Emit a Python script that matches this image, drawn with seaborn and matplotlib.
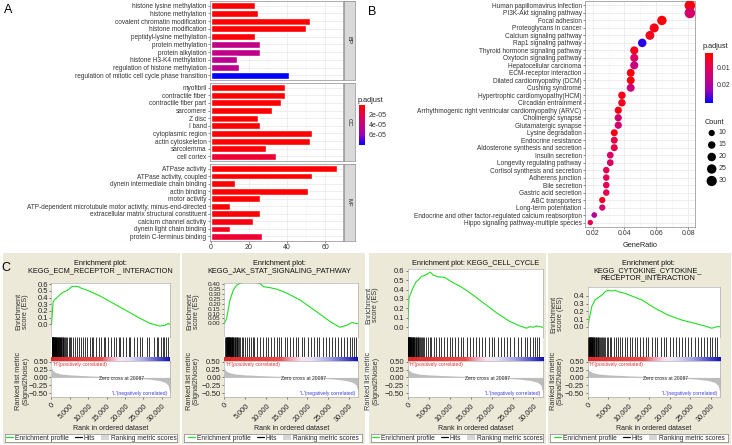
import numpy as np
import pandas as pd
import seaborn as sns
import matplotlib
matplotlib.use('Agg')
from matplotlib import pyplot as plt
from matplotlib.colors import LinearSegmentedColormap, Normalize
from matplotlib.cm import ScalarMappable
from matplotlib.lines import Line2D
from matplotlib.patches import Patch

# ---- panel A: GO enrichment (bar) ----
bp_terms = ['histone lysine methylation', 'histone methylation', 'covalent chromatin modification',
            'histone modification', 'peptidyl-lysine methylation', 'protein methylation',
            'protein alkylation', 'histone H3-K4 methylation', 'regulation of histone methylation',
            'regulation of mitotic cell cycle phase transition']
bp_counts = [23, 25, 52, 50, 23, 26, 26, 14, 15, 41]
bp_padj = [1e-6, 1e-6, 1e-6, 1e-6, 2e-6, 4.5e-5, 4.5e-5, 4.7e-5, 4.7e-5, 8.2e-5]

cc_terms = ['myofibril', 'contractile fiber', 'contractile fiber part', 'sarcomere', 'Z disc', 'I band',
            'cytoplasmic region', 'actin cytoskeleton', 'sarcolemma', 'cell cortex']
cc_counts = [39, 39, 37, 32, 25, 26, 53, 52, 29, 34]
cc_padj = [1e-6, 1e-6, 1e-6, 1e-6, 1e-6, 1e-6, 1e-6, 1e-6, 3e-6, 1.5e-5]

mf_terms = ['ATPase activity', 'ATPase activity, coupled', 'dynein intermediate chain binding',
            'actin binding', 'motor activity',
            'ATP-dependent microtubule motor activity, minus-end-directed',
            'extracellular matrix structural constituent', 'calcium channel activity',
            'dynein light chain binding', 'protein C-terminus binding']
mf_counts = [66, 53, 13, 51, 26, 10, 26, 22, 10, 27]
mf_padj = [1e-6, 1e-6, 1e-6, 1e-6, 1e-6, 2e-6, 2e-6, 6e-6, 9e-6, 1.5e-5]

# ---- panel B: KEGG enrichment (dots) ----
kegg_terms = ['Human papillomavirus infection', 'PI3K-Akt signaling pathway', 'Focal adhesion',
              'Proteoglycans in cancer', 'Calcium signaling pathway', 'Rap1 signaling pathway',
              'Thyroid hormone signaling pathway', 'Oxytocin signaling pathway',
              'Hepatocellular carcinoma', 'ECM-receptor interaction',
              'Dilated cardiomyopathy (DCM)', 'Cushing syndrome',
              'Hypertrophic cardiomyopathy(HCM)', 'Circadian entrainment',
              'Arrhythmogenic right ventricular cardiomyopathy (ARVC)', 'Cholinergic synapse',
              'Glutamatergic synapse', 'Lysine degradation', 'Endocrine resistance',
              'Aldosterone synthesis and secretion', 'Insulin secretion',
              'Longevity regulating pathway', 'Cortisol synthesis and secretion',
              'Adherens junction', 'Bile secretion', 'Gastric acid secretion', 'ABC transporters',
              'Long-term potentiation',
              'Endocrine and other factor-regulated calcium reabsorption',
              'Hippo signaling pathway-multiple species']
kegg_ratio = [0.0809, 0.0809, 0.0634, 0.0586, 0.0559, 0.0511, 0.0461, 0.0461, 0.0461, 0.0439,
              0.0439, 0.0439, 0.0384, 0.0384, 0.0361, 0.0361, 0.0361, 0.0336, 0.0336, 0.0336,
              0.0311, 0.0311, 0.0286, 0.0286, 0.0286, 0.0286, 0.0261, 0.0261, 0.0211, 0.0186]
kegg_count = [32, 32, 25, 23, 22, 20, 18, 18, 18, 17, 17, 17, 15, 15, 14, 14, 14, 13, 13, 13,
              12, 12, 11, 11, 11, 11, 10, 10, 8, 7]
kegg_padj = [0.002, 0.013, 0.002, 0.003, 0.004, 0.029, 0.004, 0.012, 0.016, 0.002, 0.002, 0.015,
             0.003, 0.004, 0.003, 0.013, 0.013, 0.003, 0.008, 0.008, 0.012, 0.012, 0.009, 0.009,
             0.009, 0.009, 0.004, 0.013, 0.019, 0.009]
count_legend = [10, 15, 20, 25, 30]

# ---- panel C: GSEA ----
n_genes = 32270
zero_cross = 20087
metric_rank = [0, 300, 1000, 2500, 5000, 10000, 15000, 20087, 24000, 27000, 29500, 31000, 31800, 32270]
metric_val = [0.30, 0.22, 0.16, 0.11, 0.08, 0.05, 0.025, 0.0, -0.03, -0.06, -0.10, -0.16, -0.25, -0.5]

c1_rank = [0, 450, 900, 1800, 2700, 3600, 4500, 5000, 5450, 6400, 7300, 8200, 10000, 13200, 16800,
           20400, 24100, 26800, 29500, 30900, 31800, 32270]
c1_es = [0.0, 0.34, 0.37, 0.415, 0.465, 0.49, 0.515, 0.54, 0.565, 0.57, 0.565, 0.54, 0.505, 0.425,
         0.315, 0.205, 0.09, 0.015, -0.025, -0.015, 0.015, 0.0]
c1_hits = [20, 70, 110, 160, 230, 280, 340, 400, 470, 530, 610, 680, 760, 830, 910, 990, 1080, 1160,
           1250, 1340, 1450, 1560, 1680, 1790, 1920, 2050, 2200, 2350, 2500, 2680, 2850, 3050, 3250,
           3480, 3700, 3950, 4300, 4700, 5100, 5350, 5800, 6300, 7000, 7400, 8100, 8500, 9200, 9600,
           10400, 10900, 11300, 12200, 12900, 13600, 14300, 14600, 15400, 16200, 16900, 17600,
           18300, 18700, 19600, 20300, 21100, 21500, 22400, 23300, 24200, 24600, 25900, 26500,
           27800, 28600, 29100, 29800, 30400, 30700, 31200, 31700]

c2_rank = [0, 560, 1370, 2170, 2970, 3770, 4980, 6180, 7390, 8590, 9390, 11000, 12600, 15000, 18200,
           22200, 25400, 27800, 29500, 30800, 31800, 32270]
c2_es = [0.0, 0.05, 0.24, 0.34, 0.39, 0.41, 0.425, 0.44, 0.42, 0.41, 0.375, 0.365, 0.35, 0.31, 0.24,
         0.12, 0.02, -0.04, -0.02, 0.01, -0.005, 0.0]
c2_hits = [250, 380, 480, 560, 650, 720, 800, 880, 950, 1030, 1110, 1190, 1270, 1360, 1450, 1540,
           1640, 1750, 1850, 1960, 2080, 2200, 2330, 2470, 2620, 2780, 2950, 3150, 3400, 3650, 3900,
           4250, 4600, 5000, 5500, 5900, 6400, 6900, 7200, 7900, 8700, 9300, 10100, 10600, 11200,
           11900, 12600, 13100, 13700, 14500, 15200, 15800, 16500, 17300, 17800, 18600, 19300,
           20100, 20800, 21600, 22300, 22900, 23700, 24500, 25100, 25900, 26600, 27300, 28100,
           28800, 29500, 30200, 30800, 31300, 31800]

c3_rank = [0, 310, 1180, 1960, 2500, 3290, 4070, 4860, 5400, 6030, 7200, 8770, 10340, 12690, 15040,
           18170, 21300, 24440, 26790, 28360, 29140, 29920, 30700, 31700, 32270]
c3_es = [0.0, 0.31, 0.41, 0.48, 0.50, 0.54, 0.55, 0.57, 0.585, 0.555, 0.535, 0.53, 0.485, 0.43,
         0.36, 0.255, 0.15, 0.06, 0.014, -0.01, 0.007, 0.0, 0.014, 0.005, 0.0]
c3_hits = [10, 50, 90, 130, 180, 220, 270, 320, 380, 440, 500, 570, 640, 720, 800, 880, 970, 1060,
           1160, 1260, 1370, 1490, 1610, 1740, 1880, 2020, 2180, 2350, 2530, 2720, 2930, 3150, 3400,
           3700, 4000, 4350, 4750, 5200, 5600, 6200, 6700, 7500, 8000, 8600, 9400, 10000, 10500,
           11300, 12100, 12800, 13300, 14100, 14900, 15500, 16400, 17100, 17700, 18500, 19300,
           20200, 20700, 21500, 22300, 23000, 23800, 24500, 25400, 26200, 27000, 27900, 28500,
           29200, 29900, 30400, 30900, 31400]

c4_rank = [0, 330, 975, 1790, 2600, 3410, 4230, 5040, 5850, 6670, 7480, 9100, 10730, 13170, 16420,
           19680, 22920, 26170, 28620, 30240, 31470, 32270]
c4_es = [0.0, 0.087, 0.26, 0.35, 0.38, 0.41, 0.455, 0.475, 0.465, 0.475, 0.455, 0.435, 0.40, 0.35,
         0.24, 0.15, 0.087, 0.043, 0.009, -0.02, 0.0, 0.0]
c4_hits = [120, 210, 290, 370, 450, 530, 610, 700, 790, 880, 970, 1070, 1170, 1280, 1390, 1510,
           1640, 1780, 1920, 2070, 2230, 2400, 2580, 2770, 2980, 3200, 3450, 3700, 4000, 4300, 4650,
           5000, 5400, 5800, 6300, 6800, 7300, 7800, 8400, 9000, 9500, 10200, 10800, 11500, 12100,
           12700, 13400, 14200, 14800, 15600, 16300, 17000, 17800, 18500, 19200, 20000, 20700,
           21500, 22200, 23000, 23700, 24500, 25300, 26100, 26800, 27600, 28400, 29100, 29800,
           30400, 31000, 31500]

W, H = 732, 445


def box(x0, y0, x1, y1):
    return [x0 / W, 1 - y1 / H, (x1 - x0) / W, (y1 - y0) / H]


def ftext(x, y, s, **kw):
    fig.text(x / W, 1 - y / H, s, **kw)


sns.set_theme(style='white')
plt.rcParams['font.family'] = ['Liberation Sans', 'DejaVu Sans']
plt.rcParams['axes.linewidth'] = 0.5

fig = plt.figure(figsize=(W / 100, H / 100), dpi=100)

cmap = LinearSegmentedColormap.from_list('padj', ['#FF0000', '#E8004A', '#C8007F', '#9A00B8', '#0000FF'])
txt = '#333333'
grid_c = '#E8E8E8'

# ================= A =================
norm_a = Normalize(1e-6, 8.2e-5)
facets = [('BP', bp_terms, bp_counts, bp_padj, 1, 80),
          ('CC', cc_terms, cc_counts, cc_padj, 83, 161),
          ('MF', mf_terms, mf_counts, mf_padj, 164, 241)]
for name, terms, counts, padj, y0, y1 in facets:
    ax = fig.add_axes(box(210, y0, 343, y1))
    df = pd.DataFrame({'term': terms, 'Count': counts, 'p.adjust': padj})
    colors = [cmap(norm_a(p)) for p in padj]
    sns.barplot(data=df, x='Count', y='term', hue='term', palette=colors, legend=False,
                width=0.9, saturation=1, ax=ax, zorder=2)
    ax.set_axisbelow(True)
    ax.set_xlim(-0.3, 69.3)
    ax.set_ylim(9.6, -0.6)
    ax.set_xticks([0, 20, 40, 60])
    ax.set_xticks([10, 30, 50], minor=True)
    ax.grid(which='major', color=grid_c, lw=0.5)
    ax.grid(which='minor', axis='x', color='#F3F3F3', lw=0.4)
    ax.set_xlabel('')
    ax.set_ylabel('')
    ax.tick_params(axis='y', labelsize=4.7, length=1.5, width=0.4, pad=1, labelcolor=txt, color=txt, left=True)
    if name == 'MF':
        ax.tick_params(axis='x', labelsize=5, length=1.5, width=0.4, pad=1, labelcolor=txt, color=txt, bottom=True)
    else:
        ax.tick_params(axis='x', labelbottom=False, bottom=False)
    for s in ax.spines.values():
        s.set_color('#8C8C8C')
    sx = fig.add_axes(box(344, y0, 355, y1), facecolor='#D9D9D9')
    sx.set_xticks([])
    sx.set_yticks([])
    for s in sx.spines.values():
        s.set_color('#8C8C8C')
    sx.text(0.5, 0.5, name, rotation=-90, ha='center', va='center', fontsize=4.3, color='#1A1A1A',
            transform=sx.transAxes)

cax = fig.add_axes(box(359, 105, 365, 145))
cb = fig.colorbar(ScalarMappable(norm=norm_a, cmap=cmap), cax=cax)
cax.invert_yaxis()
cb.set_ticks([2e-5, 4e-5, 6e-5])
cb.set_ticklabels(['2e-05', '4e-05', '6e-05'])
cb.outline.set_visible(False)
cax.tick_params(labelsize=5, length=1.5, width=0.4, color='white', pad=1, labelcolor=txt)
ftext(358, 100, 'p.adjust', fontsize=5.3, va='center', color='#222222')

# ================= B =================
norm_b = Normalize(0.001, 0.031)
s_min, s_max, c_min, c_max = 15, 58, 7, 32
axb = fig.add_axes(box(585, 1, 695, 227))
dfb = pd.DataFrame({'Description': kegg_terms, 'GeneRatio': kegg_ratio,
                    'Count': kegg_count, 'p.adjust': kegg_padj})
sns.scatterplot(data=dfb, x='GeneRatio', y='Description', hue='p.adjust', size='Count',
                palette=cmap, hue_norm=norm_b, sizes=(s_min, s_max), size_norm=(c_min, c_max),
                legend=False, edgecolor='none', ax=axb, zorder=3)
axb.set_axisbelow(True)
axb.set_ylim(len(kegg_terms) - 0.4, -0.6)
axb.set_xlim(0.0153, 0.0841)
axb.set_xticks([0.02, 0.04, 0.06, 0.08])
axb.set_xticks([0.03, 0.05, 0.07], minor=True)
axb.grid(which='major', color=grid_c, lw=0.5)
axb.grid(which='minor', axis='x', color='#F3F3F3', lw=0.4)
axb.set_ylabel('')
axb.set_xlabel('GeneRatio', fontsize=5.3, color='#222222', labelpad=3)
axb.tick_params(axis='y', labelsize=4.7, length=1.5, width=0.4, pad=1, labelcolor=txt, color=txt, left=True)
axb.tick_params(axis='x', labelsize=5, length=1.5, width=0.4, pad=1, labelcolor=txt, color=txt, bottom=True)
for s in axb.spines.values():
    s.set_color('#8C8C8C')

cbx = fig.add_axes(box(705, 53, 713, 103))
cb2 = fig.colorbar(ScalarMappable(norm=norm_b, cmap=cmap), cax=cbx)
cbx.invert_yaxis()
cb2.set_ticks([0.01, 0.02])
cb2.set_ticklabels(['0.01', '0.02'])
cb2.outline.set_visible(False)
cbx.tick_params(labelsize=5, length=1.5, width=0.4, color='white', pad=1, labelcolor=txt)
ftext(703, 47, 'p.adjust', fontsize=5.3, va='center', color='#222222')

ftext(705, 122, 'Count', fontsize=5.3, va='center', color='#222222')
lax = fig.add_axes(box(703, 127, 732, 187))
lax.set_axis_off()
leg_y = np.arange(len(count_legend))
leg_s = [s_min + (c - c_min) / (c_max - c_min) * (s_max - s_min) for c in count_legend]
lax.scatter([0.3] * len(count_legend), leg_y, s=leg_s, color='black', edgecolor='none')
for yy, c in zip(leg_y, count_legend):
    lax.text(0.55, yy, str(c), fontsize=5, va='center', color=txt)
lax.set_xlim(0, 1)
lax.set_ylim(len(count_legend) - 0.5, -0.5)

# ================= C =================
beige = '#ECE9D8'
heat = LinearSegmentedColormap.from_list('heat', [(0, '#E02828'), (0.42, '#EE4A4A'), (0.5, '#F4A0B4'),
                                                  (0.58, '#FBE6F0'), (0.66, '#E4E0F4'),
                                                  (0.78, '#A8A8E8'), (0.9, '#5555D0'), (1, '#1010B0')])
green = '#22DD22'


def gsea(px0, px1, ax0, ax1, title_x, title, es_top, ylim, yticks, ylabels, ranks, es, hits,
         eslab_x, ysize=5.5):
    bg = fig.add_axes(box(px0, 253, px1, 444), facecolor=beige)
    bg.set_xticks([])
    bg.set_yticks([])
    for s in bg.spines.values():
        s.set_visible(False)
    ftext(title_x, 260, title, fontsize=5.3, ha='center', va='top', color='#111111', linespacing=1.05)

    ea = fig.add_axes(box(ax0, es_top, ax1, 337), facecolor='white')
    sns.lineplot(x=ranks, y=es, color=green, lw=0.8, ax=ea)
    ea.set_xlim(0, n_genes)
    ea.set_ylim(*ylim)
    ea.set_xticks([])
    ea.set_yticks(yticks)
    ea.set_yticklabels(ylabels)
    ea.tick_params(axis='y', labelsize=ysize, length=1.5, width=0.4, pad=1, labelcolor='#222222', left=True)
    for s in ea.spines.values():
        s.set_color('#A0A0A0')
        s.set_linewidth(0.4)
    ftext(eslab_x, (es_top + 337) / 2 + 2, 'Enrichment\nscore (ES)', fontsize=5.3, rotation=90,
          ha='center', va='center', color='#333333', linespacing=1.0)

    ha_ = fig.add_axes(box(ax0, 337, ax1, 356.5), facecolor='white')
    ha_.vlines(hits, 0, 1, color='black', lw=0.55)
    ha_.set_xlim(0, n_genes)
    ha_.set_ylim(0, 1)
    ha_.set_xticks([])
    ha_.set_yticks([])
    for s in ha_.spines.values():
        s.set_visible(False)

    hb = fig.add_axes(box(ax0, 356.5, ax1, 361))
    hb.imshow(np.linspace(0, 1, 256)[None, :], aspect='auto', cmap=heat, extent=[0, n_genes, 0, 1])
    hb.set_axis_off()

    ma = fig.add_axes(box(ax0, 361, ax1, 397), facecolor='white')
    ma.fill_between(metric_rank, 0, metric_val, color='#BDBDBD', lw=0)
    ma.set_xlim(0, n_genes)
    ma.set_ylim(-0.62, 0.52)
    ma.set_yticks([0.5, 0.25, 0, -0.25, -0.5])
    ma.set_yticklabels(['0.50', '0.25', '0.00', '\u22120.25', '\u22120.50'])
    xt = [0, 5000, 10000, 15000, 20000, 25000, 30000]
    ma.set_xticks(xt)
    ma.set_xticklabels([f'{v:,}' for v in xt], rotation=45, ha='right', rotation_mode='anchor')
    ma.tick_params(axis='y', labelsize=5.5, length=1.5, width=0.4, pad=1, labelcolor='#222222', left=True)
    ma.tick_params(axis='x', labelsize=5.3, length=1.5, width=0.4, pad=2, labelcolor='#222222', bottom=True)
    for s in ma.spines.values():
        s.set_color('#A0A0A0')
        s.set_linewidth(0.4)
    ma.text(0.01, 0.97, "'H'(positively correlated)", color='#E03030', fontsize=3.6, va='top',
            transform=ma.transAxes)
    ma.text(zero_cross * 0.95, -0.03, f'Zero cross at {zero_cross}', color='#222222', fontsize=3.6,
            ha='center', va='center')
    ma.text(0.98, 0.04, "'L'(negatively correlated)", color='#4040E0', fontsize=3.6, ha='right',
            va='bottom', transform=ma.transAxes)
    ftext(eslab_x, 381, 'Ranked list metric\n(Signal2Noise)', fontsize=5.3, rotation=90,
          ha='center', va='center', color='#333333', linespacing=1.0)
    ftext((ax0 + ax1) / 2, 428, 'Rank in ordered dataset', fontsize=5, ha='center', va='center',
          color='#222222')

    lg = fig.add_axes(box(px0 + 2, 434, px1 - 3, 442), facecolor='white')
    lg.set_xticks([])
    lg.set_yticks([])
    for s in lg.spines.values():
        s.set_color('#808080')
        s.set_linewidth(0.5)
    handles = [Line2D([], [], color=green, lw=0.9), Line2D([], [], color='black', lw=0.9),
               Patch(facecolor='#D6D6D6', edgecolor='none')]
    lg.legend(handles, ['Enrichment profile', 'Hits', 'Ranking metric scores'], ncol=3,
              loc='center', frameon=False, fontsize=4.8, handlelength=1.1, handletextpad=0.3,
              columnspacing=0.9, borderaxespad=0, borderpad=0)


gsea(3, 180, 51.5, 170, 100, 'Enrichment plot:\nKEGG_ECM_RECEPTOR _ INTERACTION', 282.5,
     (-0.19, 0.627), [0, 0.1, 0.2, 0.3, 0.4, 0.5, 0.6],
     ['0.0', '0.1', '0.2', '0.3', '0.4', '0.5', '0.6'], c1_rank, c1_es, c1_hits, 22)
gsea(182, 365, 224.3, 358.3, 279, 'Enrichment plot:\nKEGG_JAK_STAT_SIGNALING_PATHWAY', 282.5,
     (-0.14, 0.418), [0, 0.05, 0.1, 0.15, 0.2, 0.25, 0.3, 0.35, 0.4],
     ['0.00', '0.05', '0.10', '0.15', '0.20', '0.25', '0.30', '0.35', '0.40'],
     c2_rank, c2_es, c2_hits, 193, ysize=4.6)
gsea(369, 546, 407.7, 543, 476, 'Enrichment plot: KEGG_CELL_CYCLE', 269,
     (-0.103, 0.618), [0, 0.1, 0.2, 0.3, 0.4, 0.5, 0.6],
     ['0.0', '0.1', '0.2', '0.3', '0.4', '0.5', '0.6'], c3_rank, c3_es, c3_hits, 372)
gsea(548, 731, 587.7, 720, 648, 'Enrichment plot:\nKEGG_CYTOKINE_CYTOKINE_\nRECEPTOR_INTERACTION', 287,
     (-0.134, 0.517), [0, 0.1, 0.2, 0.3, 0.4], ['0.0', '0.1', '0.2', '0.3', '0.4'],
     c4_rank, c4_es, c4_hits, 557)

ftext(8, 10, 'A', fontsize=9, ha='center', va='center', color='black')
ftext(372, 12, 'B', fontsize=9, ha='center', va='center', color='black')
ftext(6, 268, 'C', fontsize=9, ha='center', va='center', color='black')

fig.savefig('out.png', dpi=100)
